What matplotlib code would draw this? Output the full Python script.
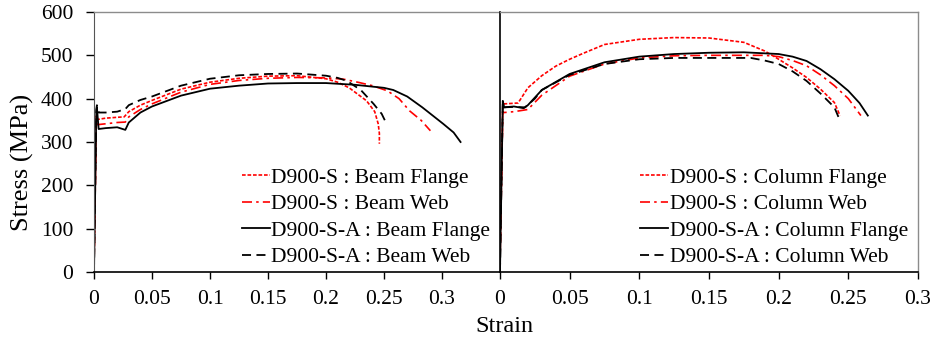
import matplotlib
matplotlib.use("Agg")
import matplotlib.pyplot as plt

plt.rcParams['font.family'] = ['Liberation Serif', 'DejaVu Serif']

# ---- Left panel: beam ----
bf_s_strain = [0, 0.002, 0.003, 0.01, 0.02, 0.026, 0.03, 0.04, 0.05, 0.075, 0.1, 0.125, 0.15, 0.175, 0.2, 0.21, 0.22, 0.235, 0.242, 0.245, 0.246, 0.246]
bf_s_stress = [10, 360, 352, 355, 357, 358, 370, 385, 396, 422, 438, 447, 452, 453, 446, 438, 425, 395, 370, 342, 320, 296]

bw_s_strain = [0, 0.002, 0.003, 0.01, 0.02, 0.027, 0.03, 0.04, 0.05, 0.075, 0.1, 0.125, 0.15, 0.175, 0.2, 0.215, 0.229, 0.24, 0.253, 0.263, 0.272, 0.282, 0.29]
bw_s_stress = [10, 345, 340, 342, 345, 346, 358, 375, 388, 415, 433, 442, 447, 449, 448, 445, 437, 430, 418, 400, 372, 350, 326]

bf_sa_strain = [0, 0.002, 0.0025, 0.004, 0.01, 0.02, 0.027, 0.03, 0.04, 0.05, 0.075, 0.1, 0.125, 0.15, 0.175, 0.2, 0.225, 0.25, 0.258, 0.27, 0.283, 0.301, 0.31, 0.316]
bf_sa_stress = [0, 370, 380, 330, 332, 334, 328, 345, 368, 382, 407, 423, 430, 435, 436, 436, 432, 425, 420, 405, 380, 342, 322, 300]

bw_sa_strain = [0, 0.002, 0.0025, 0.004, 0.01, 0.02, 0.027, 0.03, 0.04, 0.05, 0.075, 0.1, 0.125, 0.15, 0.175, 0.2, 0.21, 0.218, 0.23, 0.241, 0.248, 0.252]
bw_sa_stress = [0, 375, 385, 368, 368, 370, 376, 385, 397, 405, 430, 446, 454, 457, 458, 453, 448, 441, 420, 388, 365, 343]

# ---- Right panel: column ----
cf_s_strain = [0, 0.002, 0.003, 0.013, 0.02, 0.03, 0.04, 0.05, 0.06, 0.075, 0.1, 0.125, 0.15, 0.175, 0.19, 0.2, 0.21, 0.22, 0.23, 0.24, 0.244]
cf_s_stress = [20, 385, 388, 390, 425, 453, 475, 491, 505, 525, 537, 541, 540, 530, 510, 491, 471, 449, 422, 391, 361]

cw_s_strain = [0, 0.002, 0.003, 0.01, 0.02, 0.03, 0.05, 0.075, 0.1, 0.125, 0.15, 0.175, 0.19, 0.2, 0.21, 0.22, 0.23, 0.24, 0.25, 0.259]
cw_s_stress = [20, 370, 368, 370, 375, 408, 452, 480, 494, 499, 500, 500, 500, 497, 488, 476, 455, 430, 400, 361]

cf_sa_strain = [0, 0.002, 0.003, 0.01, 0.017, 0.02, 0.03, 0.05, 0.075, 0.1, 0.125, 0.15, 0.175, 0.2, 0.21, 0.22, 0.23, 0.24, 0.25, 0.258, 0.264]
cf_sa_stress = [0, 395, 380, 382, 378, 385, 420, 457, 484, 497, 503, 506, 507, 503, 497, 487, 468, 445, 418, 390, 361]

cw_sa_strain = [0, 0.002, 0.003, 0.01, 0.018, 0.025, 0.03, 0.05, 0.075, 0.1, 0.125, 0.15, 0.18, 0.19, 0.2, 0.21, 0.22, 0.23, 0.24, 0.243]
cw_sa_stress = [0, 390, 380, 381, 380, 400, 420, 455, 480, 491, 494, 494, 494, 488, 480, 463, 441, 412, 380, 357]

left_labels = ["D900-S : Beam Flange", "D900-S : Beam Web", "D900-S-A : Beam Flange", "D900-S-A : Beam Web"]
right_labels = ["D900-S : Column Flange", "D900-S : Column Web", "D900-S-A : Column Flange", "D900-S-A : Column Web"]
x_ticks = [0, 0.05, 0.1, 0.15, 0.2, 0.25, 0.3]
x_tick_labels = ["0", "0.05", "0.1", "0.15", "0.2", "0.25", "0.3"]
y_ticks = [0, 100, 200, 300, 400, 500, 600]

RED = "#ff0000"
styles = [
    dict(color=RED, linestyle=(0, (2.2, 1.1)), linewidth=1.2),
    dict(color=RED, linestyle=(0, (6, 2.5, 1.5, 2.5)), linewidth=1.2),
    dict(color="black", linestyle="-", linewidth=1.3),
    dict(color="black", linestyle=(0, (5, 3)), linewidth=1.3),
]

fig = plt.figure(figsize=(9.34, 3.44), dpi=100)
axL = fig.add_axes([94/934, 1-272/344, (500-94)/934, (272-12)/344])
axR = fig.add_axes([500/934, 1-272/344, (918-500)/934, (272-12)/344])

left_data = [(bf_s_strain, bf_s_stress), (bw_s_strain, bw_s_stress), (bf_sa_strain, bf_sa_stress), (bw_sa_strain, bw_sa_stress)]
right_data = [(cf_s_strain, cf_s_stress), (cw_s_strain, cw_s_stress), (cf_sa_strain, cf_sa_stress), (cw_sa_strain, cw_sa_stress)]

for ax, data, labels, anchor_x in ((axL, left_data, left_labels, 0.988), (axR, right_data, right_labels, 0.988)):
    for (xs, ys), st, lab in zip(data, styles, labels):
        ax.plot(xs, ys, label=lab, **st)
    ax.set_ylim(0, 600)
    ax.set_xticks(x_ticks)
    ax.set_xticklabels(x_tick_labels)
    ax.tick_params(axis='x', direction='out', length=5, width=1, labelsize=15.5, pad=8)
    ax.spines['bottom'].set_color('black')
    ax.spines['bottom'].set_linewidth(1.2)
    for s in ('top', 'right'):
        ax.spines[s].set_color('#8c8c8c')
        ax.spines[s].set_linewidth(1.0)
    ax.legend(loc='lower right', frameon=False, fontsize=15.5, handlelength=1.3,
              handletextpad=0.08, labelspacing=0.3, borderpad=0.1, borderaxespad=0.12,
              bbox_to_anchor=(anchor_x, 0.0))

axL.set_xlim(0, 0.35)
axR.set_xlim(0, 0.3)

axL.set_yticks(y_ticks)
axL.tick_params(axis='y', direction='out', length=6, width=1, labelsize=15.5, pad=9)
axL.spines['left'].set_color('#555555')
axL.spines['right'].set_visible(False)

axR.tick_params(axis='y', left=False, labelleft=False)
axR.spines['left'].set_color('black')
axR.spines['left'].set_linewidth(1.2)

fig.text(22/934, 1-162/344, "Stress (MPa)", rotation=90, ha='center', va='center', fontsize=19)
fig.text(504/934, 1-326/344, "Strain", ha='center', va='center', fontsize=17.5)

fig.savefig("out.png", dpi=100)
